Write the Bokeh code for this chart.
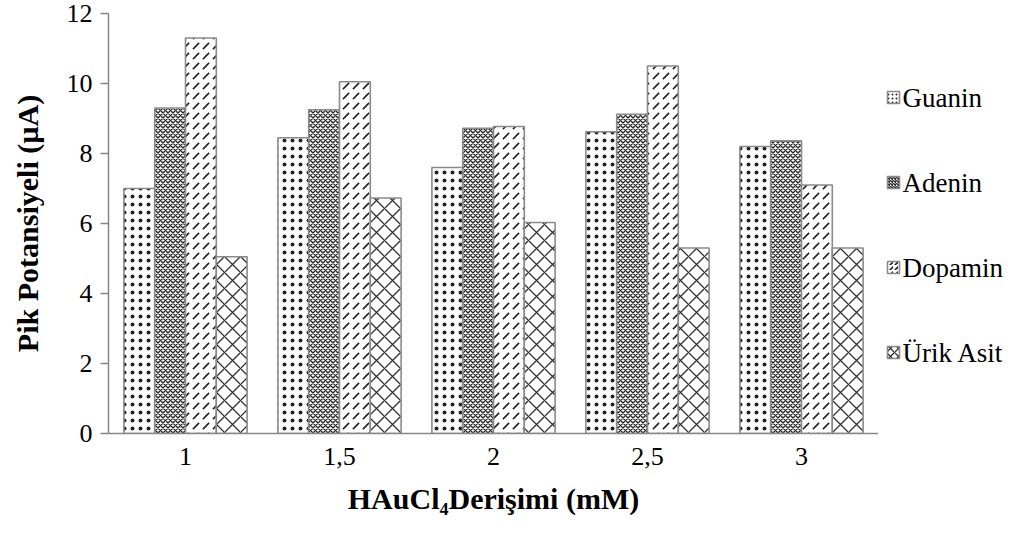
from bokeh.plotting import figure
from bokeh.models import FactorRange, ColumnDataSource, SingleIntervalTicker, Range1d
from bokeh.transform import dodge
from bokeh.layouts import row
from bokeh.core.properties import value
from bokeh.embed import file_html
from bokeh.resources import INLINE

categories = ["1", "1,5", "2", "2,5", "3"]
series_names = ["Guanin", "Adenin", "Dopamin", "Ürik Asit"]
guanin = [7.0, 8.45, 7.6, 8.62, 8.2]
adenin = [9.3, 9.25, 8.72, 9.12, 8.36]
dopamin = [11.3, 10.05, 8.77, 10.5, 7.1]
urik_asit = [5.05, 6.73, 6.03, 5.3, 5.3]

source = ColumnDataSource(data=dict(cat=categories, Guanin=guanin, Adenin=adenin,
                                    Dopamin=dopamin, Urik=urik_asit))

FONT = "Liberation Serif"
LEGEND_FONT = "Times"

p = figure(x_range=FactorRange(*categories, range_padding=0), y_range=(0, 12),
           width=878, height=535, frame_width=770, frame_height=420,
           output_backend="svg", toolbar_location=None,
           min_border_left=108, min_border_right=0, min_border_top=13,
           min_border_bottom=102)

cols = ["Guanin", "Adenin", "Dopamin", "Urik"]
offsets = [-0.3, -0.1, 0.1, 0.3]
hatches = [
    dict(hatch_pattern="dot", hatch_scale=8, hatch_weight=1.5, hatch_color="#222222"),
    dict(hatch_pattern="diagonal_cross", hatch_scale=5, hatch_weight=1.4, hatch_color="#2a2a2a"),
    dict(hatch_pattern="right_diagonal_dash", hatch_scale=10, hatch_weight=1.6, hatch_color="#222222"),
    dict(hatch_pattern="diagonal_cross", hatch_scale=16, hatch_weight=1.3, hatch_color="#333333"),
]

for col, off, h in zip(cols, offsets, hatches):
    p.vbar(x=dodge("cat", off, range=p.x_range), top=col, width=0.2, source=source,
           fill_color="white", line_color="#8a8a8a", line_width=1.6, **h)

p.xgrid.grid_line_color = None
p.ygrid.grid_line_color = None
p.outline_line_color = None

p.yaxis.ticker = SingleIntervalTicker(interval=2)
for ax in (p.xaxis[0], p.yaxis[0]):
    ax.axis_line_color = "#868686"
    ax.axis_line_width = 1.5
    ax.major_label_text_font = FONT
    ax.major_label_text_font_size = "26px"
    ax.major_label_text_color = "black"
    ax.axis_label_text_font = FONT
    ax.axis_label_text_font_size = "30px"
    ax.axis_label_text_font_style = "bold"
    ax.axis_label_text_color = "black"
    ax.minor_tick_line_color = None

p.xaxis.major_tick_line_color = None
p.xaxis.major_label_standoff = 8
p.xaxis.axis_label = "HAuCl₄Derişimi (mM)"
p.xaxis.axis_label_standoff = 14

p.yaxis.major_tick_line_color = "#868686"
p.yaxis.major_tick_line_width = 1.5
p.yaxis.major_tick_out = 8
p.yaxis.major_tick_in = 0
p.yaxis.major_label_standoff = 8
p.yaxis.axis_label = "Pik Potansiyeli (µA)"
p.yaxis.axis_label_standoff = 20

# Legend drawn in a narrow side figure whose frame matches the main frame vertically
lg = figure(width=141, height=535, frame_width=141, frame_height=420,
            x_range=Range1d(0, 141), y_range=Range1d(0, 420),
            output_backend="svg", toolbar_location=None,
            min_border_left=0, min_border_right=0, min_border_top=13,
            min_border_bottom=102, x_axis_location=None, y_axis_location=None)
lg.xgrid.grid_line_color = None
lg.ygrid.grid_line_color = None
lg.outline_line_color = None

item_y = [336, 251, 166, 81]
for yy, h in zip(item_y, hatches):
    lg.rect(x=[15], y=[yy], width=12, height=12, width_units="screen", height_units="screen",
            fill_color="white", line_color="#8a8a8a", line_width=1.6,
            **dict(h, hatch_scale=max(3, h["hatch_scale"] * 0.5)))
lg.text(x=[24] * len(series_names), y=item_y, text=series_names,
        text_font=value(LEGEND_FONT), text_font_size="27px", text_color="black",
        text_baseline="middle", text_align="left")

layout = row(p, lg, spacing=0)
open("out.html", "w").write(file_html(layout, INLINE))
